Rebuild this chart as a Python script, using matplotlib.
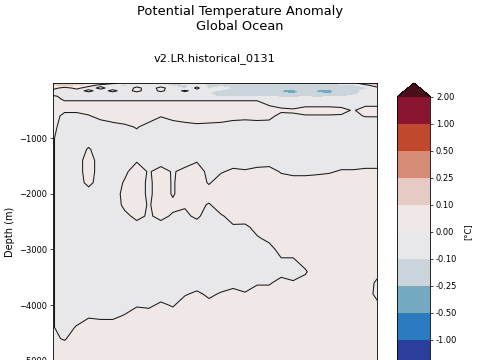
import numpy as np
import matplotlib
matplotlib.use("Agg")
import matplotlib.pyplot as plt
from matplotlib.colors import ListedColormap, BoundaryNorm

# time axis (columns) and depth levels (rows), depth in m
years = np.arange(1850, 2013, 6)
depths = [-10, -50, -100, -150, -200, -250, -300, -400, -500, -600, -700, -800,
          -1000, -1200, -1400, -1600, -1800, -2000, -2200, -2400, -2600, -2800,
          -3000, -3200, -3400, -3600, -3800, -4000, -4200, -4400, -4600, -4800,
          -5000, -5500]

# temperature anomaly, in hundredths of a degree C
anom_hundredths = [
    [15, 18, 15, 12, 8, 3, -5, -12, -5, -12, -12, -5, -12, -12, -5, -12, -12, -15, -12, -12, -15, -12, -12, -12, -5, -5, 15, 40],
    [8, 12, 8, 4, -3, -8, -12, -5, -12, -5, -12, -12, -5, -12, -15, -12, -12, -15, -18, -15, -18, -15, -18, -15, -12, -12, -5, 12],
    [4, -4, 3, -5, 3, -5, -8, 3, -5, 3, -5, -12, 3, -12, -5, -12, -12, -15, -12, -15, -20, -15, -18, -20, -15, -12, -12, -5],
    [-3, -5, -5, 3, -5, 3, -5, 3, -5, 2, -5, 2, -5, -8, -12, -12, -15, -12, -15, -28, -30, -20, -28, -30, -18, -12, -8, -3],
    [-5, -5, -5, -5, -5, -5, -8, -5, -8, -5, -8, -5, -8, -10, -12, -12, -12, -15, -15, -20, -26, -18, -22, -26, -15, -12, -8, -5],
    [3, -4, -5, -5, -5, -5, -5, -5, -5, -5, -5, -5, -5, -8, -11, -12, -11, -12, -11, -12, -12, -11, -12, -11, -11, -8, -5, -5],
    [5, -2, -2, -2, -2, -2, -2, -2, -2, -2, -2, -2, -2, -2, -2, -2, -2, -2, -3, -4, -5, -5, -5, -5, -5, -5, -4, -4],
    [5, 5, 5, 5, 5, 5, 5, 5, 5, 5, 5, 5, 5, 5, 5, 5, 5, 5, -1, -3, -3, -3, -3, -3, -3, -3, -2, -2],
    [5, 2, 2, 5, 5, 5, 5, 5, 5, 5, 5, 5, 5, 5, 5, 5, 5, 5, 5, 2, 1, 5, 5, 5, 3, -1, 5, 5],
    [5, -3, -3, -1, 5, 5, 5, 5, 5, 1, 5, 5, 5, 5, 5, 5, 5, 5, 3, -3, -1, -1, -1, -1, -1, -3, 1, 1],
    [5, -5, -5, -5, -2, 1, 3, 4, 1, -5, -1, 1, 2, 2, 1, -1, -2, -1, -1, -5, -5, -5, -5, -5, -5, -5, -5, -5],
    [3, -5, -5, -5, -5, -5, -3, 1, -5, -5, -5, -5, -3, -5, -5, -5, -5, -5, -5, -5, -5, -5, -5, -5, -5, -5, -5, -5],
    [1, -5, -5, -5, -5, -5, -5, -5, -5, -5, -5, -5, -5, -5, -5, -5, -5, -5, -5, -5, -5, -5, -5, -5, -5, -5, -5, -5],
    [1, -5, -5, 1, -5, -5, -5, -5, -5, -5, -5, -5, -5, -5, -5, -5, -5, -5, -5, -5, -5, -5, -5, -5, -5, -5, -5, -5],
    [1, -5, -5, 5, -5, -5, -3, -1, -5, -5, -5, -5, -1, -5, -5, -5, -5, -5, -5, -5, -5, -5, -5, -5, -5, -5, -5, -5],
    [1, -5, -5, 5, -5, -5, -2, 5, -1, 4, -1, 3, 5, -3, -1, 2, 1, 3, 4, -1, -3, -3, -2, -1, 1, 1, 2, 2],
    [1, -5, -5, 3, -5, -5, 1, 5, -2, 5, -1, 5, 5, -1, 5, 5, 5, 5, 5, 5, 5, 5, 5, 5, 5, 5, 5, 5],
    [1, -5, -5, -5, -5, -5, 3, 5, -2, 5, -1, 5, 5, 5, 5, 5, 5, 5, 5, 5, 5, 5, 5, 5, 5, 5, 5, 5],
    [1, -5, -5, -5, -5, -5, 2, 5, -1, 5, 2, 1, 3, -1, 5, 5, 5, 5, 5, 5, 5, 5, 5, 5, 5, 5, 5, 5],
    [1, -5, -5, -5, -5, -5, -2, 2, -1, 2, -1, -2, 2, -5, -1, 3, 5, 5, 5, 5, 5, 5, 5, 5, 5, 5, 5, 5],
    [1, -5, -5, -5, -5, -5, -5, -3, -5, -3, -5, -5, -5, -5, -5, -1, -2, 3, 5, 5, 5, 5, 5, 5, 5, 5, 5, 5],
    [1, -5, -5, -5, -5, -5, -5, -5, -5, -5, -5, -5, -5, -5, -5, -5, -5, -1, 2, 5, 5, 5, 5, 5, 5, 5, 5, 5],
    [1, -5, -5, -5, -5, -5, -5, -5, -5, -5, -5, -5, -5, -5, -5, -5, -5, -5, -3, 3, 3, 5, 5, 5, 5, 5, 5, 5],
    [1, -5, -5, -5, -5, -5, -5, -5, -5, -5, -5, -5, -5, -5, -5, -5, -5, -5, -5, -1, -1, 3, 5, 5, 5, 5, 5, 5],
    [1, -5, -5, -5, -5, -5, -5, -5, -5, -5, -5, -5, -5, -5, -5, -5, -5, -5, -5, -3, -4, -1, 5, 5, 5, 5, 5, 3],
    [1, -5, -5, -5, -5, -5, -5, -5, -5, -5, -5, -5, -5, -5, -5, -3, -5, -1, -1, 3, 1, 3, 5, 5, 5, 5, 5, -2],
    [1, -5, -5, -5, -5, -5, -5, -5, -5, -5, -5, -1, 2, -2, 1, 3, 1, 4, 4, 5, 5, 5, 5, 5, 5, 5, 5, -3],
    [1, -5, -5, -5, -5, -5, -5, -1, -2, 2, -1, 5, 5, 3, 5, 5, 5, 5, 5, 5, 5, 5, 5, 5, 5, 5, 5, 2],
    [1, -5, -5, -1, -2, -2, 1, 5, 5, 5, 5, 5, 5, 5, 5, 5, 5, 5, 5, 5, 5, 5, 5, 5, 5, 5, 5, 5],
    [1, -5, 1, 5, 5, 5, 5, 5, 5, 5, 5, 5, 5, 5, 5, 5, 5, 5, 5, 5, 5, 5, 5, 5, 5, 5, 5, 5],
    [2, -1, 5, 5, 5, 5, 5, 5, 5, 5, 5, 5, 5, 5, 5, 5, 5, 5, 5, 5, 5, 5, 5, 5, 5, 5, 5, 5],
    [5, 5, 5, 5, 5, 5, 5, 5, 5, 5, 5, 5, 5, 5, 5, 5, 5, 5, 5, 5, 5, 5, 5, 5, 5, 5, 5, 5],
    [5, 5, 5, 5, 5, 5, 5, 5, 5, 5, 5, 5, 5, 5, 5, 5, 5, 5, 5, 5, 5, 5, 5, 5, 5, 5, 5, 5],
    [5, 5, 5, 5, 5, 5, 5, 5, 5, 5, 5, 5, 5, 5, 5, 5, 5, 5, 5, 5, 5, 5, 5, 5, 5, 5, 5, 5],
]

levels = [-2.0, -1.0, -0.5, -0.25, -0.1, 0.0, 0.1, 0.25, 0.5, 1.0, 2.0]
band_colors = ["#2c3e9b", "#2a7bbf", "#74aabf", "#c9d4db", "#e8e7e9",
               "#efe8e6", "#e6cbc4", "#d58c76", "#c0482c", "#8b1430"]
under_color = "#1c1d5a"
over_color = "#4a0e1b"

anom = np.array(anom_hundredths) / 100.0

cmap = ListedColormap(band_colors)
cmap.set_under(under_color)
cmap.set_over(over_color)
norm = BoundaryNorm(levels, cmap.N)

fig = plt.figure(figsize=(4.8, 3.6), dpi=100)
# the axes run past the bottom edge: the picture only shows the upper part
ax = fig.add_axes([0.1094, -0.0556, 0.677, 0.825])
cax = fig.add_axes([0.828, -0.0556, 0.06875, 0.825])

cf = ax.contourf(years, depths, anom, levels=levels, cmap=cmap, norm=norm,
                 extend="both")
ax.contour(years, depths, anom, levels=[0.0], colors="#1a1a1a", linewidths=0.75)

ax.set_xlim(years[0], years[-1])
ax.set_ylim(-5345, -10)
ax.set_yticks([-1000, -2000, -3000, -4000, -5000])
ax.tick_params(axis="x", labelbottom=False, length=0)
ax.set_ylabel("Depth (m)", fontsize=7, labelpad=3)
ax.tick_params(axis="y", labelsize=6, length=2, width=0.5, pad=2)
for sp in ax.spines.values():
    sp.set_linewidth(0.6)
ax.set_title("v2.LR.historical_0131", fontsize=8.2, pad=16)

cbar = fig.colorbar(cf, cax=cax, ticks=levels, format="%.2f")
cbar.ax.tick_params(labelsize=6, length=2, width=0.5, pad=2)
cbar.outline.set_linewidth(0.6)
cbar.set_label("[°C]", fontsize=6, labelpad=4)

fig.suptitle("Potential Temperature Anomaly\nGlobal Ocean", fontsize=9.4,
             y=0.985, va="top")

fig.savefig("out.png", dpi=100)
